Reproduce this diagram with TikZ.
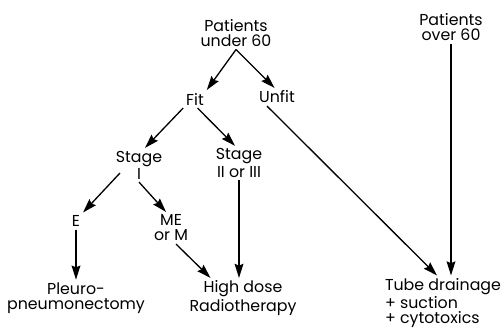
\documentclass[tikz,border=0pt]{standalone}
\usepackage{fontspec}
\setmainfont{Poppins}
\usetikzlibrary{arrows.meta,positioning}
\tikzset{
  lbl/.style={inner sep=1.5pt, align=center, font=\fontsize{9}{8.5}\selectfont},
  lblL/.style={lbl, align=left},
  arrow/.style={-{Stealth[length=8pt,width=5pt,inset=1pt]}, line width=0.75pt}
}

\begin{document}
\begin{tikzpicture}
  \useasboundingbox (0,0) rectangle (10.02,6.6);

  \node[lbl] (u60) at (4.72,5.94) {Patients\\under 60};
  \node[lbl] (o60) at (9.02,6.06) {Patients\\over 60};

  \node[lbl] (fit)   at (3.90,4.62) {Fit};
  \node[lbl] (unfit) at (5.54,4.66) {Unfit};

  \node[lbl] (stI)  at (2.78,3.30) {Stage\\I};
  \node[lbl] (stII) at (4.78,3.34) {Stage\\II or III};

  \node[lbl] (e)  at (1.52,2.18) {E};
  \node[lbl] (me) at (3.42,2.04) {ME\\or M};

  \node[lbl]  (pleuro) at (1.52,0.64) {Pleuro-\\pneumonectomy};
  \node[lbl]  (hd)     at (4.86,0.64) {High dose\\Radiotherapy};
  \node[lblL] (tube)   at (8.86,0.54) {Tube drainage\\+ suction\\+ cytotoxics};

  \draw[arrow] (u60.south) -- (fit.north east);
  \draw[arrow] (u60.south) -- ([xshift=-0.05cm]unfit.north);

  \draw[arrow] (fit.south west) -- ([xshift=0.12cm]stI.north);
  \draw[arrow] ([xshift=0.05cm]fit.south) -- ([xshift=-0.08cm]stII.north);

  \draw[arrow] ([xshift=-0.2cm]unfit.south) -- ([xshift=-0.12cm]tube.north);
  \draw[arrow] (o60.south) -- (o60.south |- tube.north);

  \draw[arrow] ([shift={(-0.38,-0.16)}]stI.center) -- (e.north east);
  \draw[arrow] (stI.south) -- ([xshift=-0.1cm]me.north);
  \draw[arrow] (stII.south) -- (stII.south |- hd.north);

  \draw[arrow] (e) -- (pleuro);
  \draw[arrow] ([xshift=0.1cm]me.south) -- ([xshift=-0.65cm]hd.north);
\end{tikzpicture}
\end{document}
